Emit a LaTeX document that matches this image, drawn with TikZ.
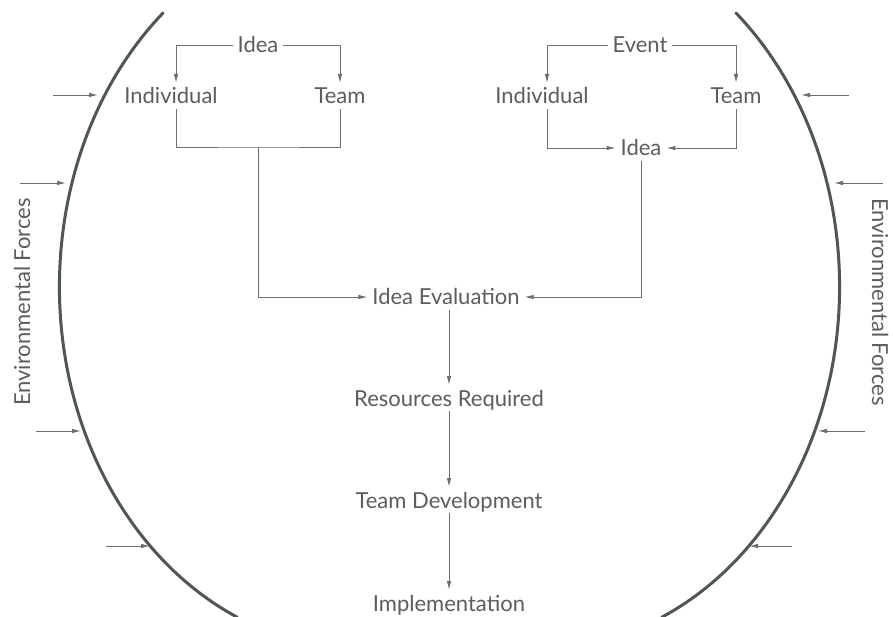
\documentclass[tikz,border=0pt]{standalone}
\usepackage{fontspec}
\setmainfont{Lato}
\usepackage{xcolor}
\usetikzlibrary{arrows.meta,positioning}
\definecolor{ink}{HTML}{5A5D5D}
\definecolor{rule}{HTML}{6B6F6F}
\definecolor{shell}{HTML}{4F5655}
\tikzset{
  term/.style={text=ink, font=\fontsize{22}{26}\selectfont, inner sep=0pt,
               outer sep=5pt, text height=16pt, text depth=0pt},
  link/.style={draw=rule, line width=0.9pt},
  flow/.style={link, -{Latex[length=9pt,width=4.5pt]}},
  force/.style={link, -{Latex[length=9pt,width=4.5pt]}},
  shell/.style={draw=shell, line width=3pt, line cap=round}
}

\begin{document}
\begin{tikzpicture}[x=1pt,y=-1pt,>=Latex]
  \useasboundingbox (0,0) rectangle (893,617);

  % the two bounding curves
  \draw[shell] (163,13) arc[start angle=229.1, end angle=114, x radius=300, y radius=362];
  \draw[shell] (736,13) arc[start angle=-49.1, end angle=66, x radius=300, y radius=362];

  % pushes from outside
  \foreach \i/\y/\xs/\xe in {1/95/53/98, 2/183/20/66, 3/431/36/81, 4/546/106/150} {
    \coordinate (fl\i) at (\xs,\y);
    \coordinate (tl\i) at (\xe,\y);
    \draw[force] (fl\i) -- (tl\i);
  }
  \foreach \i/\y/\xs/\xe in {1/95/849/801, 2/183/883/834, 3/431/865/818, 4/546/792/749} {
    \coordinate (fr\i) at (\xs,\y);
    \coordinate (tr\i) at (\xe,\y);
    \draw[force] (fr\i) -- (tr\i);
  }
  \node[term,rotate=90] (envl) at (22,302) {Environmental Forces};
  \node[term,rotate=-90] (envr) at (880,302) {Environmental Forces};

  % idea first
  \node[term] (ideaA) at (258,45) {Idea};
  \node[term] (indA) at (171,96) {Individual};
  \node[term] (teamA) at (340,96) {Team};
  \coordinate (joinA) at (258,147);
  \draw[flow] (ideaA.west) -| ([xshift=5pt]indA.north);
  \draw[flow] (ideaA.east) -| (teamA.north);
  \draw[link] ([xshift=5pt]indA.south) |- (joinA) -| (teamA.south);

  % event first
  \node[term] (event) at (640,45) {Event};
  \node[term] (indB) at (542,96) {Individual};
  \node[term] (teamB) at (736,96) {Team};
  \node[term] (ideaB) at (641,148) {Idea};
  \draw[flow] (event.west) -| ([xshift=5pt]indB.north);
  \draw[flow] (event.east) -| (teamB.north);
  \draw[flow] ([xshift=5pt]indB.south) |- (ideaB.west);
  \draw[flow] (teamB.south) |- (ideaB.east);

  % main sequence
  \node[term] (ideaeval) at (446,297) {Idea Evaluation};
  \node[term] (resources) at (449,398) {Resources Required};
  \node[term] (teamdev) at (449,500) {Team Development};
  \node[term] (impl) at (449,603) {Implementation};
  \draw[flow] (joinA) |- (ideaeval.west);
  \draw[flow] (ideaB.south) |- (ideaeval.east);
  \draw[flow] (ideaeval.south -| resources) -- (resources);
  \draw[flow] (resources) -- (teamdev);
  \draw[flow] (teamdev) -- (impl);
\end{tikzpicture}
\end{document}
